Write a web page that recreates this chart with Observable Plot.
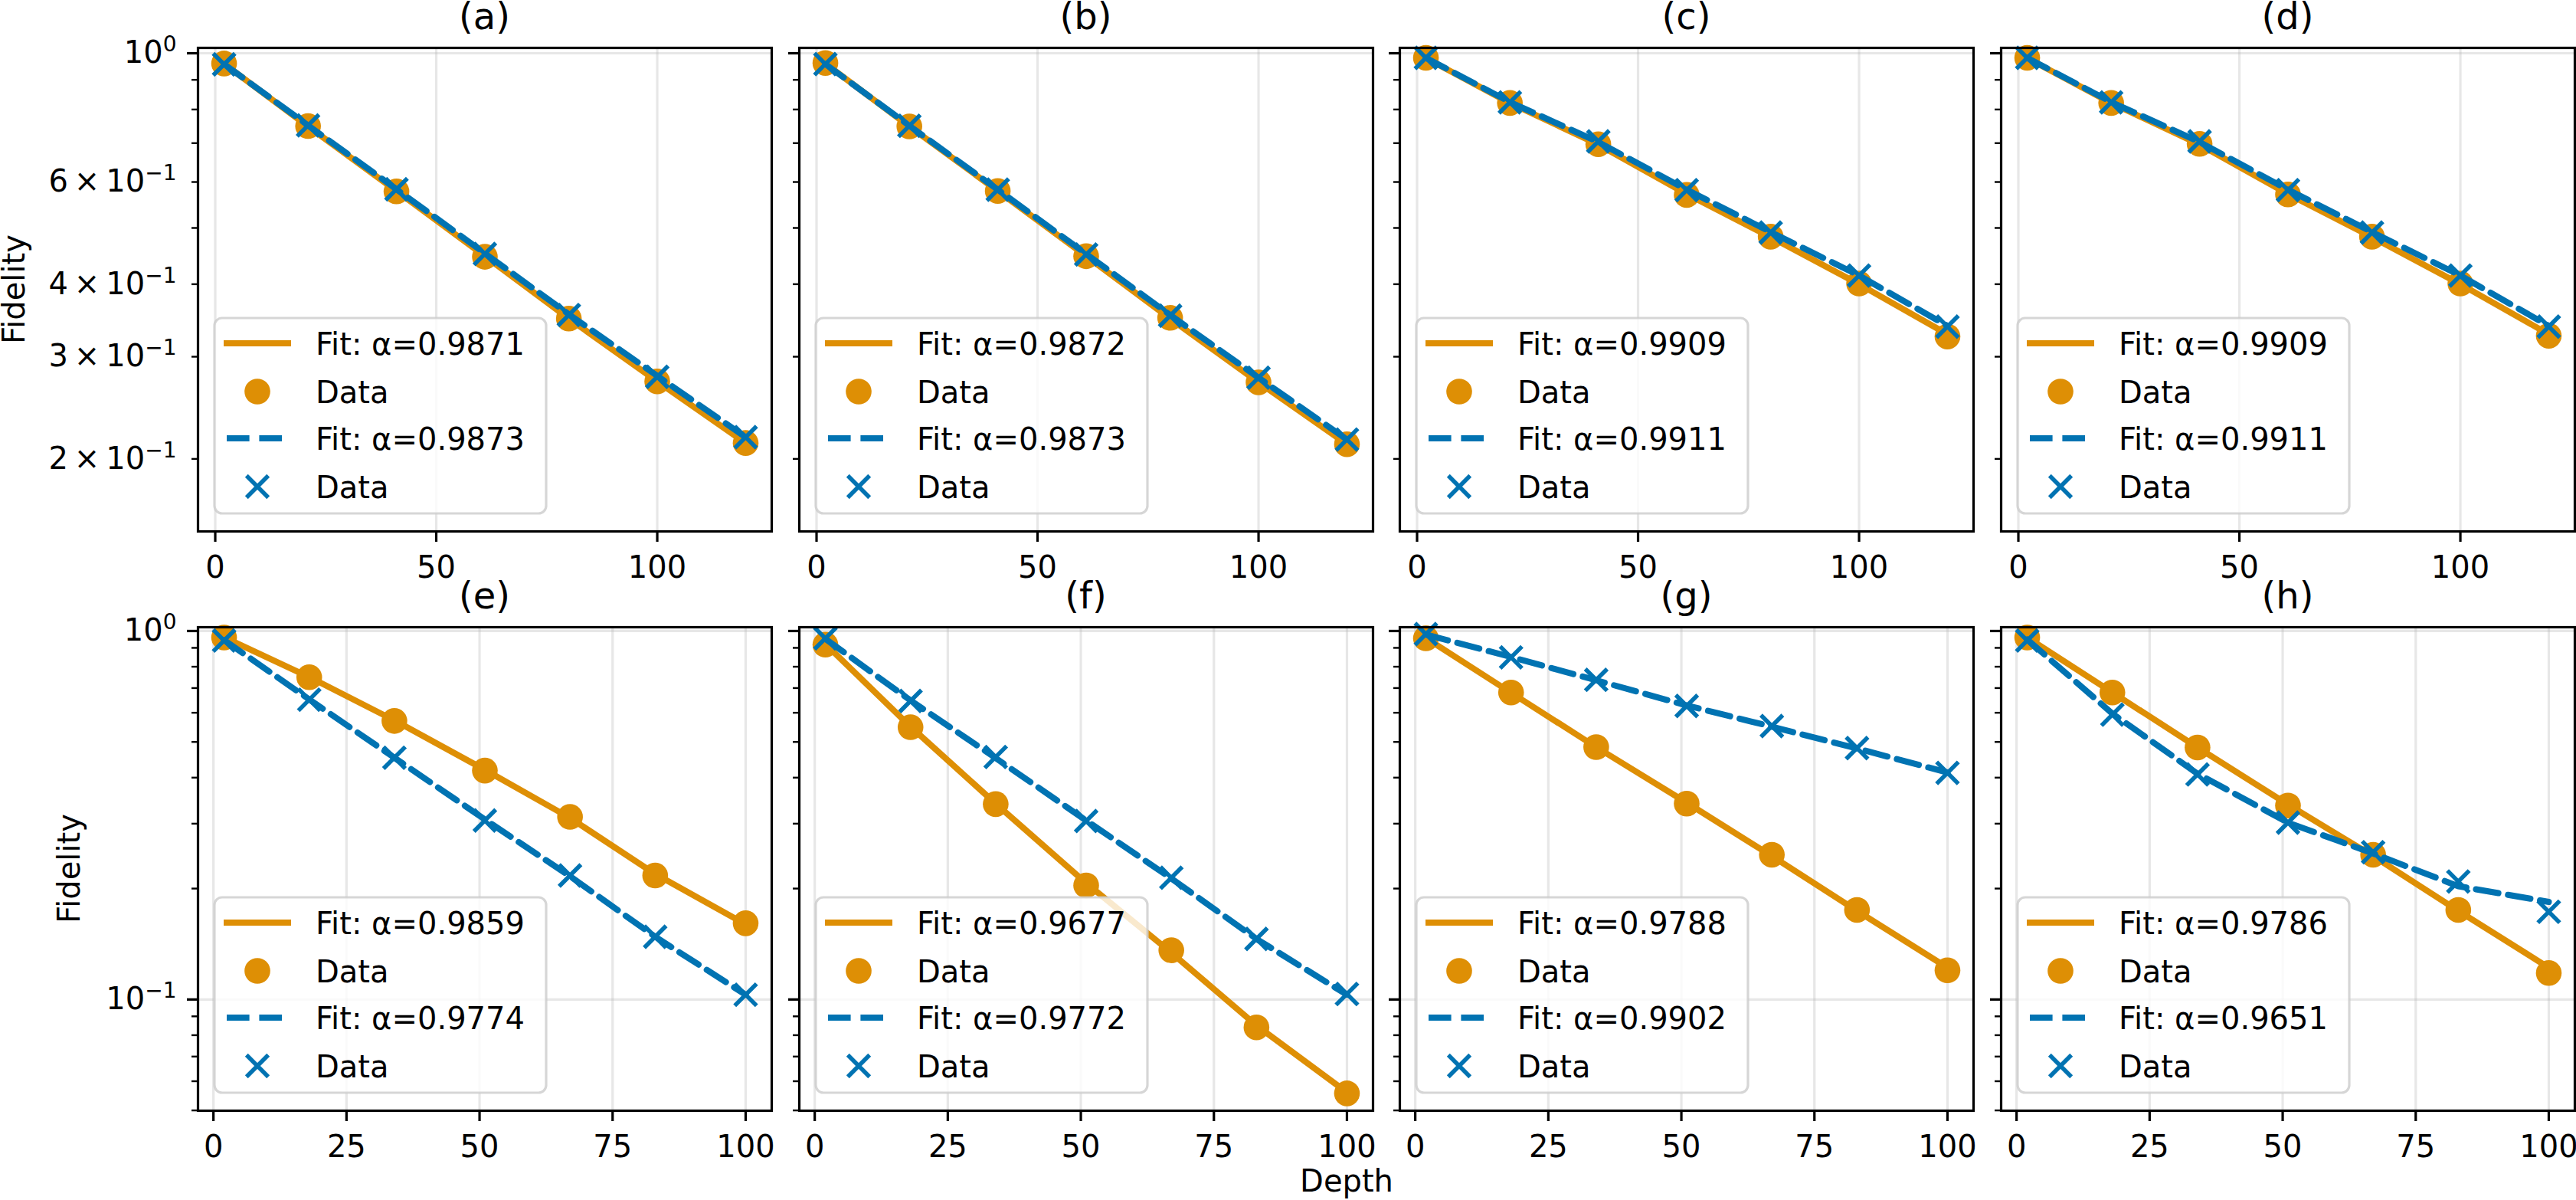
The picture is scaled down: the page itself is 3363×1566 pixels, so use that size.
<!DOCTYPE html>
<html><head><meta charset="utf-8">
<script src="https://cdn.jsdelivr.net/npm/d3@7"></script>
<script src="https://cdn.jsdelivr.net/npm/@observablehq/plot@0.6"></script>
<style>
html,body{margin:0;padding:0;background:#fff;}
#fig{position:relative;width:3363px;height:1566px;overflow:hidden;background:#fff;font-family:"DejaVu Sans";}
#fig svg{position:absolute;}
</style></head><body><div id="fig"></div>
<script>
// ---------- data ----------
const panelTitles = ["(a)", "(b)", "(c)", "(d)", "(e)", "(f)", "(g)", "(h)"];
const alphaOrange = ["0.9871", "0.9872", "0.9909", "0.9909", "0.9859", "0.9677", "0.9788", "0.9786"];
const alphaBlue   = ["0.9873", "0.9873", "0.9911", "0.9911", "0.9774", "0.9772", "0.9902", "0.9651"];
const depthsTop    = [2, 21, 41, 61, 80, 100, 120];
const depthsBottom = [2, 18, 34, 51, 67, 83, 100];

const orangeDataA = [0.960, 0.749, 0.578, 0.446, 0.349, 0.272, 0.213];
const orangeFitA  = [0.959, 0.748, 0.579, 0.447, 0.349, 0.272, 0.213];
const blueDataA   = [0.957, 0.751, 0.583, 0.451, 0.354, 0.277, 0.218];
const blueFitA    = [0.958, 0.751, 0.583, 0.452, 0.355, 0.278, 0.218];

const orangeDataB = [0.962, 0.748, 0.579, 0.447, 0.350, 0.271, 0.212];
const orangeFitB  = [0.960, 0.748, 0.579, 0.447, 0.349, 0.271, 0.212];
const blueDataB   = [0.958, 0.750, 0.582, 0.450, 0.353, 0.276, 0.216];
const blueFitB    = [0.958, 0.750, 0.582, 0.451, 0.354, 0.276, 0.216];

const orangeDataC = [0.982, 0.821, 0.697, 0.570, 0.483, 0.401, 0.325];
const orangeFitC  = [0.981, 0.821, 0.696, 0.572, 0.482, 0.400, 0.328];
const blueDataC   = [0.982, 0.823, 0.705, 0.581, 0.491, 0.414, 0.338];
const blueFitC    = [0.982, 0.824, 0.703, 0.582, 0.492, 0.414, 0.339];

const orangeDataD = [0.982, 0.821, 0.698, 0.571, 0.483, 0.401, 0.326];
const orangeFitD  = [0.981, 0.821, 0.696, 0.572, 0.482, 0.400, 0.328];
const blueDataD   = [0.982, 0.823, 0.705, 0.581, 0.491, 0.414, 0.338];
const blueFitD    = [0.982, 0.824, 0.703, 0.582, 0.492, 0.414, 0.339];

const orangeDataE = [0.960, 0.749, 0.570, 0.418, 0.313, 0.217, 0.161];
const orangeFitE  = [0.962, 0.750, 0.572, 0.420, 0.311, 0.219, 0.160];
const blueDataE   = [0.942, 0.651, 0.453, 0.306, 0.217, 0.148, 0.103];
const blueFitE    = [0.945, 0.652, 0.453, 0.308, 0.216, 0.148, 0.103];

const orangeDataF = [0.918, 0.548, 0.339, 0.204, 0.136, 0.084, 0.0556];
const orangeFitF  = [0.922, 0.550, 0.340, 0.207, 0.134, 0.085, 0.0560];
const blueDataF   = [0.955, 0.646, 0.455, 0.305, 0.214, 0.146, 0.1035];
const blueFitF    = [0.952, 0.648, 0.452, 0.306, 0.213, 0.146, 0.103];

const orangeDataG = [0.955, 0.681, 0.484, 0.340, 0.247, 0.175, 0.120];
const orangeFitG  = [0.957, 0.680, 0.484, 0.342, 0.245, 0.174, 0.122];
const blueDataG   = [0.981, 0.848, 0.737, 0.626, 0.552, 0.481, 0.412];
const blueFitG    = [0.978, 0.850, 0.735, 0.628, 0.550, 0.480, 0.413];

const orangeDataH = [0.960, 0.681, 0.483, 0.336, 0.247, 0.175, 0.118];
const orangeFitH  = [0.960, 0.681, 0.483, 0.338, 0.245, 0.174, 0.122];
const blueDataH   = [0.942, 0.593, 0.408, 0.302, 0.251, 0.209, 0.173];
const blueFitH    = [0.948, 0.597, 0.410, 0.302, 0.249, 0.203, 0.184];

const xTicksTop = [0, 50, 100];
const xTicksBottom = [0, 25, 50, 75, 100];
const yMajorTop = [1];
const yLabeledMinorTop = [0.6, 0.4, 0.3, 0.2];
const yLabelsMinorTop = ["6\u2009×\u200910^−1", "4\u2009×\u200910^−1", "3\u2009×\u200910^−1", "2\u2009×\u200910^−1"];
const yPlainMinorTop = [0.9, 0.8, 0.7, 0.5];
const yMajorBottom = [1, 0.1];
const yLabelsMajorBottom = ["10^0", "10^−1"];
const yMinorBottom = [0.9, 0.8, 0.7, 0.6, 0.5, 0.4, 0.3, 0.2, 0.09, 0.08, 0.07, 0.06, 0.05];

const orangeData = [orangeDataA, orangeDataB, orangeDataC, orangeDataD, orangeDataE, orangeDataF, orangeDataG, orangeDataH];
const orangeFit  = [orangeFitA, orangeFitB, orangeFitC, orangeFitD, orangeFitE, orangeFitF, orangeFitG, orangeFitH];
const blueData   = [blueDataA, blueDataB, blueDataC, blueDataD, blueDataE, blueDataF, blueDataG, blueDataH];
const blueFit    = [blueFitA, blueFitB, blueFitC, blueFitD, blueFitE, blueFitF, blueFitG, blueFitH];

// ---------- layout / style ----------
const ORANGE = "#DE8F05", BLUE = "#0173B2";
const FS = 40;
const colLeft = [258, 1042.5, 1827, 2611.5];
const rowTop = [62, 818];
const PW = 749, PH = 631;
const fig = document.getElementById("fig");
const SVGNS = "http://www.w3.org/2000/svg";

function supify(svg) {
  svg.querySelectorAll("text").forEach(t => {
    const s = t.textContent;
    if (s.includes("^")) {
      const [base, sup] = s.split("^");
      t.textContent = base;
      const ts = document.createElementNS(SVGNS, "tspan");
      ts.textContent = sup;
      ts.setAttribute("font-size", "28");
      ts.setAttribute("dy", "-15");
      t.appendChild(ts);
    }
  });
}

function panel(i) {
  const row = i < 4 ? 0 : 1, col = i % 4;
  const mL = col === 0 ? 258 : 40, mR = 30, mT = 70, mB = 100;
  const depths = row ? depthsBottom : depthsTop;
  const rows = depths.map((d, k) => ({d, of: orangeFit[i][k], od: orangeData[i][k], bf: blueFit[i][k], bd: blueData[i][k]}));
  const xDom = row ? [-2.9, 104.9] : [-3.9, 125.9];
  const yDom = row ? [0.0499, 1.024] : [0.150, 1.0215];
  const xTicks = row ? xTicksBottom : xTicksTop;
  const showY = col === 0;
  const gridStyle = {stroke: "#b0b0b0", strokeOpacity: 0.3, strokeWidth: 3.2};
  const yAxes = row ? [
    Plot.axisY({ticks: yMajorBottom, tickSize: 14, tickPadding: 14, strokeWidth: 3.2, fontSize: FS, label: null,
      tickFormat: d => showY ? yLabelsMajorBottom[yMajorBottom.indexOf(d)] : ""}),
    Plot.axisY({ticks: yMinorBottom, tickSize: 8, strokeWidth: 2.4, label: null, tickFormat: () => ""})
  ] : [
    Plot.axisY({ticks: yMajorTop, tickSize: 14, tickPadding: 14, strokeWidth: 3.2, fontSize: FS, label: null,
      tickFormat: () => showY ? "10^0" : ""}),
    Plot.axisY({ticks: yLabeledMinorTop, tickSize: 8, tickPadding: 20, strokeWidth: 2.4, fontSize: FS, label: null,
      tickFormat: d => showY ? yLabelsMinorTop[yLabeledMinorTop.indexOf(d)] : ""}),
    Plot.axisY({ticks: yPlainMinorTop, tickSize: 8, strokeWidth: 2.4, label: null, tickFormat: () => ""})
  ];
  const svg = Plot.plot({
    width: mL + PW + mR, height: mT + PH + mB,
    marginLeft: mL, marginRight: mR, marginTop: mT, marginBottom: mB,
    style: {fontFamily: "DejaVu Sans", background: "transparent", overflow: "visible"},
    x: {type: "linear", domain: xDom},
    y: {type: "log", domain: yDom},
    marks: [
      Plot.gridX({ticks: xTicks, ...gridStyle}),
      Plot.gridY({ticks: row ? yMajorBottom : yMajorTop, ...gridStyle}),
      Plot.line(rows, {x: "d", y: "of", stroke: ORANGE, strokeWidth: 8, clip: true}),
      Plot.dot(rows, {x: "d", y: "od", r: 16.8, fill: ORANGE, stroke: null}),
      Plot.line(rows, {x: "d", y: "bf", stroke: BLUE, strokeWidth: 8, strokeDasharray: "29.6,12.8", clip: true}),
      Plot.dot(rows, {x: "d", y: "bd", r: 13, symbol: "times", stroke: BLUE, strokeWidth: 5.5, fill: "none"}),
      Plot.frame({stroke: "black", strokeWidth: 3.2}),
      Plot.axisX({ticks: xTicks, tickSize: 14, tickPadding: 18, strokeWidth: 3.2, fontSize: FS, label: null, tickFormat: d => String(d)}),
      ...yAxes
    ]
  });
  supify(svg);
  const g = d3.select(svg).append("g").attr("font-family", "DejaVu Sans");
  // title
  g.append("text").attr("x", mL + PW / 2).attr("y", mT - 24).attr("text-anchor", "middle")
    .attr("font-size", 48).attr("fill", "black").text(panelTitles[i]);
  // legend
  const bx = mL + 22, by = mT + PH - 23 - 255;
  g.append("rect").attr("x", bx).attr("y", by).attr("width", 433).attr("height", 255).attr("rx", 10)
    .attr("fill", "white").attr("fill-opacity", 0.8).attr("stroke", "#cccccc").attr("stroke-opacity", 0.8).attr("stroke-width", 3.2);
  const ry = [33, 96, 157, 220].map(v => by + v);
  const hx0 = bx + 16, hx1 = bx + 96, hc = bx + 56;
  g.append("line").attr("x1", hx0).attr("x2", hx1).attr("y1", ry[0]).attr("y2", ry[0])
    .attr("stroke", ORANGE).attr("stroke-width", 8).attr("stroke-linecap", "square");
  g.append("circle").attr("cx", hc).attr("cy", ry[1]).attr("r", 16.8).attr("fill", ORANGE);
  g.append("line").attr("x1", hx0).attr("x2", hx1).attr("y1", ry[2]).attr("y2", ry[2])
    .attr("stroke", BLUE).attr("stroke-width", 8).attr("stroke-dasharray", "29.6,12.8");
  const h = 14.2;
  g.append("path").attr("d", `M${hc - h},${ry[3] - h}L${hc + h},${ry[3] + h}M${hc - h},${ry[3] + h}L${hc + h},${ry[3] - h}`)
    .attr("stroke", BLUE).attr("stroke-width", 5.5).attr("fill", "none");
  const labels = [`Fit: α=${alphaOrange[i]}`, "Data", `Fit: α=${alphaBlue[i]}`, "Data"];
  labels.forEach((s, k) => {
    g.append("text").attr("x", bx + 132).attr("y", ry[k] + 14.5).attr("font-size", FS).attr("fill", "black")
      .attr("text-anchor", "start").text(s);
  });
  svg.style.position = "absolute";
  svg.style.left = (colLeft[col] - mL) + "px";
  svg.style.top = (rowTop[row] - mT) + "px";
  svg.style.background = "transparent";
  svg.style.maxWidth = "none";
  svg.style.overflow = "visible";
  fig.appendChild(svg);
}

for (let i = 0; i < 8; i++) panel(i);

// global labels
const ov = d3.select(fig).append("svg").attr("width", 3363).attr("height", 1566)
  .style("left", "0px").style("top", "0px").style("pointer-events", "none")
  .attr("font-family", "DejaVu Sans").attr("font-size", FS);
ov.append("text").attr("transform", "translate(32,377.5) rotate(-90)").attr("text-anchor", "middle").text("Fidelity");
ov.append("text").attr("transform", "translate(104,1133.5) rotate(-90)").attr("text-anchor", "middle").text("Fidelity");
ov.append("text").attr("x", 1758).attr("y", 1555).attr("text-anchor", "middle").text("Depth");
</script>
</body></html>
